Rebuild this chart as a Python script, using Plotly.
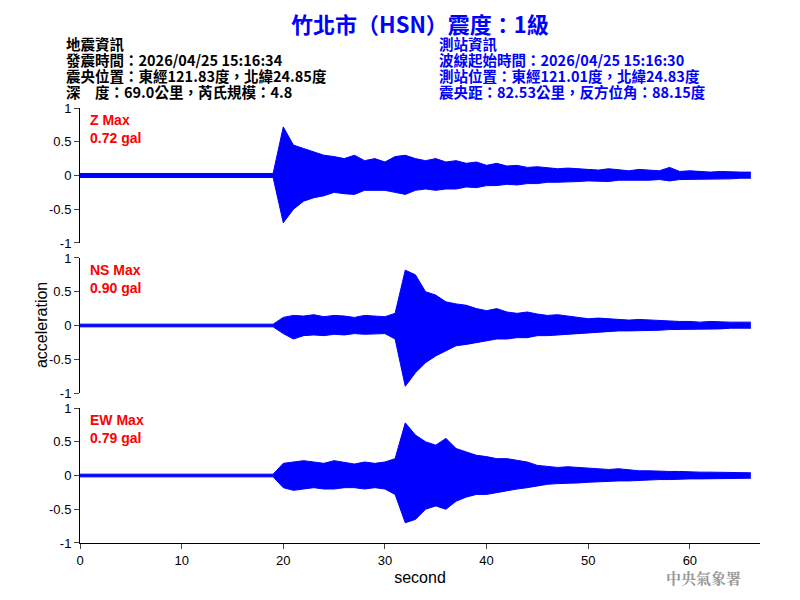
import plotly.graph_objects as go

t = list(range(67))
Z_hi = [0.03]*20 + [0.72,0.45,0.4,0.35,0.3,0.28,0.25,0.3,0.22,0.25,0.2,0.28,0.3,0.25,0.22,0.25,0.2,0.22,0.18,0.2,
        0.15,0.18,0.14,0.15,0.12,0.13,0.12,0.1,0.11,0.1,0.09,0.08,0.1,0.08,0.07,0.09,0.08,0.07,0.12,0.06,0.07,0.06,0.05,0.06,0.05,0.05,0.05]
Z_lo = [-0.03]*20 + [-0.7,-0.5,-0.38,-0.33,-0.3,-0.25,-0.27,-0.28,-0.22,-0.22,-0.22,-0.25,-0.28,-0.22,-0.2,-0.22,-0.2,-0.2,-0.17,-0.18,
        -0.15,-0.15,-0.13,-0.14,-0.12,-0.12,-0.1,-0.1,-0.1,-0.09,-0.08,-0.08,-0.09,-0.07,-0.07,-0.08,-0.07,-0.06,-0.08,-0.06,-0.06,-0.05,-0.05,-0.05,-0.05,-0.04,-0.04]
NS_hi = [0.02]*20 + [0.12,0.15,0.14,0.16,0.13,0.15,0.14,0.12,0.15,0.14,0.13,0.18,0.82,0.75,0.5,0.45,0.35,0.32,0.3,0.25,
        0.22,0.25,0.2,0.18,0.2,0.17,0.15,0.16,0.14,0.13,0.1,0.11,0.1,0.09,0.08,0.09,0.08,0.07,0.07,0.06,0.06,0.05,0.06,0.05,0.05,0.05,0.05]
NS_lo = [-0.02]*20 + [-0.12,-0.2,-0.15,-0.14,-0.15,-0.13,-0.14,-0.12,-0.13,-0.12,-0.12,-0.2,-0.9,-0.7,-0.55,-0.45,-0.38,-0.3,-0.28,-0.25,
        -0.22,-0.2,-0.2,-0.18,-0.18,-0.15,-0.15,-0.14,-0.13,-0.12,-0.1,-0.1,-0.09,-0.08,-0.08,-0.08,-0.07,-0.07,-0.06,-0.06,-0.05,-0.05,-0.05,-0.05,-0.04,-0.04,-0.04]
EW_hi = [0.02]*20 + [0.18,0.2,0.22,0.2,0.18,0.22,0.2,0.17,0.2,0.18,0.2,0.25,0.78,0.6,0.5,0.45,0.55,0.4,0.35,0.3,
        0.28,0.25,0.25,0.22,0.2,0.15,0.14,0.12,0.13,0.12,0.1,0.1,0.09,0.1,0.08,0.07,0.07,0.06,0.06,0.06,0.05,0.05,0.05,0.05,0.05,0.04,0.04]
EW_lo = [-0.02]*20 + [-0.18,-0.22,-0.2,-0.18,-0.2,-0.2,-0.18,-0.18,-0.2,-0.18,-0.2,-0.28,-0.7,-0.65,-0.5,-0.45,-0.5,-0.38,-0.32,-0.28,
        -0.28,-0.25,-0.22,-0.2,-0.18,-0.15,-0.13,-0.12,-0.12,-0.11,-0.1,-0.09,-0.09,-0.08,-0.08,-0.07,-0.06,-0.06,-0.06,-0.05,-0.05,-0.05,-0.05,-0.04,-0.04,-0.04,-0.04]

left_lines = ["地震資訊", "發震時間：2026/04/25 15:16:34", "震央位置：東經121.83度，北緯24.85度", "深　度：69.0公里，芮氏規模：4.8"]
right_lines = ["測站資訊", "波線起始時間：2026/04/25 15:16:30", "測站位置：東經121.01度，北緯24.83度", "震央距：82.53公里，反方位角：88.15度"]

traces = [("y", Z_hi, Z_lo), ("y2", NS_hi, NS_lo), ("y3", EW_hi, EW_lo)]
fig = go.Figure()
blue = "#0000ff"
for ax, hi, lo in traces:
    fig.add_trace(go.Scatter(x=t, y=hi, yaxis=ax, mode="lines", line=dict(color=blue, width=1), showlegend=False))
    fig.add_trace(go.Scatter(x=t, y=lo, yaxis=ax, mode="lines", line=dict(color=blue, width=1),
                             fill="tonexty", fillcolor=blue, showlegend=False))

f = "Arial, Liberation Sans"
yax = dict(range=[-1, 1], tickvals=[-1, -0.5, 0, 0.5, 1], ticktext=["-1", "-0.5", "0", "0.5", "1"],
           showline=True, linecolor="black", ticks="outside", ticklen=5, showgrid=False, zeroline=False,
           tickfont=dict(size=13, family=f, color="black"))
fig.update_layout(
    width=800, height=600, plot_bgcolor="white", paper_bgcolor="white",
    margin=dict(l=72, r=48, t=100, b=65),
    xaxis=dict(range=[0, 66.9], tickvals=[0, 10, 20, 30, 40, 50, 60], showline=True, linecolor="black",
               ticks="outside", ticklen=5, showgrid=False, zeroline=False, anchor="y3",
               tickfont=dict(size=13, family=f, color="black"),
               title=dict(text="second", font=dict(size=16, family=f, color="black"), standoff=5)),
    yaxis=dict(domain=[0.6897, 1], **yax),
    yaxis2=dict(domain=[0.3448, 0.6552], **yax),
    yaxis3=dict(domain=[0, 0.3103], **yax),
)
ann = []
for yv, lab, val in [(1, "Z Max", "0.72 gal"), (0.6552, "NS Max", "0.90 gal"), (0.3103, "EW Max", "0.79 gal")]:
    ann.append(dict(x=0.012, y=yv - 0.005, xref="paper", yref="paper", text="<b>" + lab + "<br>" + val + "</b>", showarrow=False,
                    xanchor="left", yanchor="top", align="left", font=dict(size=14, color="red", family=f)))
ann.append(dict(x=-0.072, y=0.5, xref="paper", yref="paper", text="acceleration", textangle=-90, showarrow=False,
                font=dict(size=16, color="black", family=f)))
cjk = "Noto Sans CJK TC"
ann.append(dict(x=0.5, y=1, xref="paper", yref="paper", yshift=85, yanchor="middle", showarrow=False,
                text="<b>竹北市（HSN）震度：1級</b>", font=dict(size=22, color=blue, family=cjk)))
for xx, lines, col in [(-0.0235, left_lines, "black"), (0.525, right_lines, blue)]:
    for i, txt in enumerate(lines):
        ann.append(dict(x=xx, y=1, xref="paper", yref="paper", yshift=65 - 16 * i, xanchor="left", yanchor="middle",
                        showarrow=False, text="<b>" + txt + "</b>", font=dict(size=14.5, color=col, family=cjk)))
ann.append(dict(x=0.975, y=0, xref="paper", yref="paper", yshift=-22, xanchor="right", yanchor="top", showarrow=False,
                text="<b>中央氣象署</b>", font=dict(size=15, color="#999999", family="Noto Serif CJK TC, " + cjk)))
fig.update_layout(annotations=ann)
fig.write_html("out.html")
